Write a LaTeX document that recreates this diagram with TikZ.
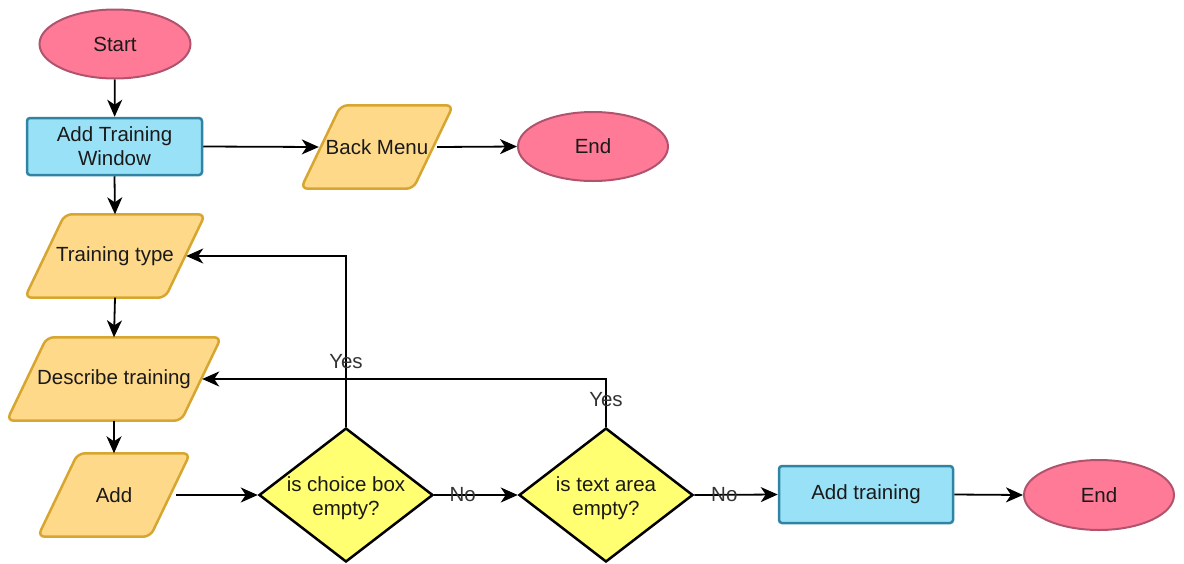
\documentclass[tikz,border=0pt]{standalone}
\usepackage{fontspec}
\setmainfont{Liberation Sans}
\usetikzlibrary{shapes.geometric,arrows.meta,backgrounds}
\definecolor{termfill}{HTML}{FF7A96}
\definecolor{termline}{HTML}{B0546E}
\definecolor{procfill}{HTML}{99E1F7}
\definecolor{procline}{HTML}{2F84A3}
\definecolor{iofill}{HTML}{FFD98A}
\definecolor{ioline}{HTML}{D6A630}
\definecolor{decfill}{HTML}{FFFF71}
\definecolor{txt}{HTML}{1A1A1A}
\tikzset{
  every node/.style={font=\fontsize{20.5}{24}\selectfont, text=txt, align=center, inner sep=0pt},
  term/.style={ellipse, draw=termline, fill=termfill, line width=2pt},
  proc/.style={rectangle, rounded corners=3pt, draw=procline, fill=procfill, line width=2.5pt},
  io/.style={rectangle, minimum height=83pt},
  ioshape/.style={draw=ioline, fill=iofill, line width=2.5pt, rounded corners=7pt},
  dec/.style={diamond, draw=black, fill=decfill, line width=2.5pt,
    minimum width=174pt, minimum height=134pt},
  flow/.style={line width=1.8pt, draw=black, -{Stealth[length=17pt,width=15pt,inset=5pt]}},
  lbl/.style={text=black!80}
}
% slanted outline drawn round an io node (slant 40pt)
\newcommand\ioframe[1]{%
  \draw[ioshape] ([xshift=40pt]#1.north west) -- (#1.north east)
    -- ([xshift=-40pt]#1.south east) -- (#1.south west) -- cycle;}
\begin{document}
\begin{tikzpicture}[x=1pt,y=-1pt]
\useasboundingbox (0,0) rectangle (1184,563);

% main column
\node[term, minimum width=151pt, minimum height=69pt] (start) at (115,44) {Start};
\node[proc, minimum width=175pt, minimum height=57pt] (atw) at (114.5,146.5) {Add Training\\Window};
\node[io, minimum width=180pt] (ttype) at (115,256) {Training type};
\node[io, minimum width=214pt] (desc) at (114,379) {Describe training};
\node[io, minimum width=152pt] (add) at (114,495) {Add};

% back branch
\node[io, minimum width=152pt] (back) at (377,147) {Back Menu};
\node[term, minimum width=150pt, minimum height=69pt] (end1) at (593,146.5) {End};

% checks and final steps
\node[dec, label={[align=center, yshift=-3pt]center:is choice box\\empty?}] (chk1) at (346,495) {};
\node[dec, label={[align=center, yshift=-3pt]center:is text area\\empty?}] (chk2) at (606,495) {};
\node[proc, minimum width=174pt, minimum height=57pt] (save) at (866,494.5) {Add training};
\node[term, minimum width=150pt, minimum height=70pt] (end2) at (1099,495) {End};

\begin{scope}[on background layer]
  \ioframe{ttype}
  \ioframe{desc}
  \ioframe{add}
  \ioframe{back}
\end{scope}

% connectors
\draw[flow] (start) -- (atw);
\draw[flow] (atw.south) -- (ttype.north);
\draw[flow] (atw.east) -- ([xshift=18pt]back.west);
\draw[flow] ([xshift=-16pt]back.east) -- (end1.west);
\draw[flow] (ttype.south) -- (desc.north);
\draw[flow] (desc.south) -- (add.north);
\draw[flow] ([xshift=-14pt]add.east) -- (chk1.west);
\draw[flow] (chk1.north) |- node[lbl, pos=0.19] {Yes} ([xshift=-19pt]ttype.east);
\draw[flow] (chk2.north) |- node[lbl, pos=0.29] {Yes} ([xshift=-19pt]desc.east);
\draw[flow] (chk1.east) -- node[lbl, pos=0.34] {No} (chk2.west);
\draw[flow] (chk2.east) -- node[lbl, pos=0.36] {No} (save.west);
\draw[flow] (save.east) -- (end2.west);
\end{tikzpicture}
\end{document}
